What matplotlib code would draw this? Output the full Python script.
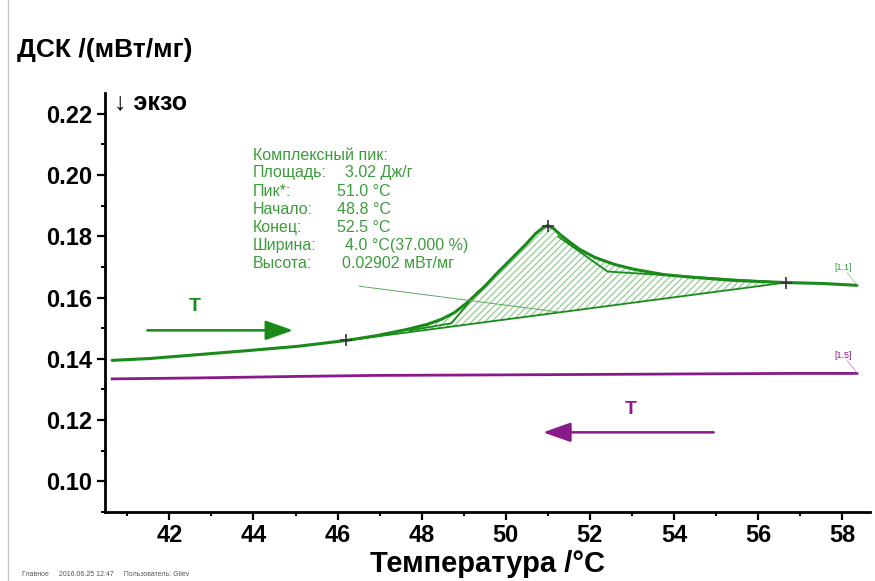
import numpy as np
import matplotlib
matplotlib.use("Agg")
import matplotlib.pyplot as plt
from matplotlib.lines import Line2D
from matplotlib.patches import Polygon

plt.rcParams['font.family'] = ['Liberation Sans', 'DejaVu Sans']

# heating curve (DSC, mW/mg)
heat_t = [40.64, 41.53, 42.71, 43.88, 45.06, 46.21, 46.94, 47.65, 48.12, 48.47,
          48.78, 49.06, 49.29, 49.53, 49.76, 50.00, 50.24, 50.47, 50.71, 50.89,
          51.00, 51.13, 51.29, 51.53, 51.76, 52.12, 52.59, 53.06, 53.76, 54.47,
          55.41, 56.66, 57.53, 58.35]
heat_dsc = [0.1395, 0.1401, 0.1414, 0.1427, 0.1441, 0.1460, 0.1476, 0.1496, 0.1512, 0.1529,
            0.1551, 0.1581, 0.1610, 0.1641, 0.1675, 0.1708, 0.1741, 0.1773, 0.1809, 0.1829,
            0.1835, 0.1826, 0.1806, 0.1780, 0.1757, 0.1731, 0.1708, 0.1692, 0.1675, 0.1666,
            0.1656, 0.1649, 0.1646, 0.1640]

# cooling curve
cool_t = [40.64, 42.71, 45.06, 46.94, 49.76, 52.12, 54.47, 56.82, 58.35]
cool_dsc = [0.13345, 0.13377, 0.13426, 0.13459, 0.13475, 0.13491, 0.13508, 0.13524, 0.13524]

# peak evaluation points: start, peak, end
mark_t = [46.21, 51.00, 56.66]
mark_dsc = [0.1460, 0.1835, 0.1649]

# construction lines of the complex peak
left_t = [47.72, 48.71, 49.34]
left_dsc = [0.1493, 0.1516, 0.1620]
right_t = [51.25, 52.42, 56.59]
right_dsc = [0.1799, 0.1685, 0.1649]
height_t = [46.52, 51.25]
height_dsc = [0.1637, 0.1553]

info_labels = ["Площадь:", "Пик*:", "Начало:", "Конец:", "Ширина:", "Высота:"]
info_values = ["3.02 Дж/г", "51.0 °C", "48.8 °C", "52.5 °C", "4.0 °C(37.000 %)", "0.02902 мВт/мг"]
info_x = [345, 337, 337, 337, 345, 342]

GREEN = '#1a8a1a'
TXT_GREEN = '#3c9c3c'
PURPLE = '#8a1a8a'

fig = plt.figure(figsize=(8.75, 5.81), dpi=100)
ax = fig.add_axes([0.12, 0.1188, 0.8743, 0.7212])

def px(x, y):
    return x / 875, 1 - y / 581

# hatched peak area between curve and baseline
pts = [(t, d) for t, d in zip(heat_t, heat_dsc) if mark_t[0] <= t <= mark_t[2]]
area = Polygon(pts, closed=True, facecolor='none', edgecolor='#9ccf9c',
               hatch='/////', lw=0)
ax.add_patch(area)

ax.plot(heat_t, heat_dsc, color=GREEN, lw=2.2, solid_capstyle='round')
ax.plot(cool_t, cool_dsc, color=PURPLE, lw=2.0)
ax.plot([mark_t[0], mark_t[2]], [mark_dsc[0], mark_dsc[2]], color=GREEN, lw=1.3)
ax.plot(left_t, left_dsc, color=GREEN, lw=1.3)
ax.plot(right_t, right_dsc, color=GREEN, lw=1.3)
ax.plot(height_t, height_dsc, color='#5aaa5a', lw=0.7)
ax.plot(mark_t, mark_dsc, '+', color='#333333', ms=8, mew=1.2)

# direction arrows
arrow = '-|>,head_length=1.7,head_width=0.6'
ax.annotate('', xy=(45.01, 0.1493), xytext=(41.41, 0.1493),
            arrowprops=dict(arrowstyle=arrow, color=GREEN, lw=1.8))
ax.text(42.6, 0.1571, 'T', color=GREEN, fontsize=14, fontweight='bold',
        ha='center', va='center')
ax.annotate('', xy=(50.82, 0.1160), xytext=(55.01, 0.1160),
            arrowprops=dict(arrowstyle=arrow, color=PURPLE, lw=1.8))
ax.text(52.96, 0.1235, 'T', color=PURPLE, fontsize=14, fontweight='bold',
        ha='center', va='center')

# segment labels
ax.text(58.02, 0.1698, '[1.1]', color=TXT_GREEN, fontsize=6.5, ha='center', va='center')
ax.plot([58.12, 58.35], [0.1680, 0.1642], color='#9ac89a', lw=0.6)
ax.text(58.02, 0.1411, '[1.5]', color=PURPLE, fontsize=6.5, ha='center', va='center')
ax.plot([58.12, 58.35], [0.1393, 0.1355], color='#c08ac0', lw=0.6)

# peak info block
fig.text(*px(253, 155), 'Комплексный пик:', color=TXT_GREEN, fontsize=11.5, va='center')
for i, (lab, val) in enumerate(zip(info_labels, info_values)):
    y = 173 + i * 18.2
    fig.text(*px(253, y), lab, color=TXT_GREEN, fontsize=11.5, va='center')
    fig.text(*px(info_x[i], y), val, color=TXT_GREEN, fontsize=11.5, va='center')

ax.set_xlim(40.47, 58.66)
ax.set_ylim(0.0902, 0.2268)
ax.set_xticks(np.arange(42, 59, 2))
ax.set_xticks(np.arange(41, 59, 2), minor=True)
ax.set_yticks(np.arange(0.10, 0.221, 0.02))
ax.set_yticks(np.arange(0.09, 0.225, 0.01), minor=True)
ax.yaxis.set_major_formatter(plt.FormatStrFormatter('%.2f'))
ax.tick_params(which='major', length=6, width=1.6, labelsize=17, pad=3)
ax.tick_params(which='minor', length=3, width=1.4)
for lab in ax.get_xticklabels() + ax.get_yticklabels():
    lab.set_fontweight('bold')
for s in ['top', 'right']:
    ax.spines[s].set_visible(False)
for s in ['left', 'bottom']:
    ax.spines[s].set_linewidth(2.0)

ax.set_xlabel('Температура /°C', fontsize=21, fontweight='bold', labelpad=2)
fig.text(*px(17, 50), 'ДСК /(мВт/мг)', fontsize=19, fontweight='bold', va='center')
fig.text(*px(114, 102), '↓ экзо', fontsize=18, fontweight='bold', va='center')

# left border and footer
fig.add_artist(Line2D([8 / 875, 8 / 875], [0, 1], color='#c8c8c8', lw=1.0,
                      transform=fig.transFigure))
fig.text(*px(22, 575), 'Главное     2016.06.25 12:47     Пользователь: Gilev',
         fontsize=5, color='#555555', va='center')

fig.savefig('out.png', dpi=100)
